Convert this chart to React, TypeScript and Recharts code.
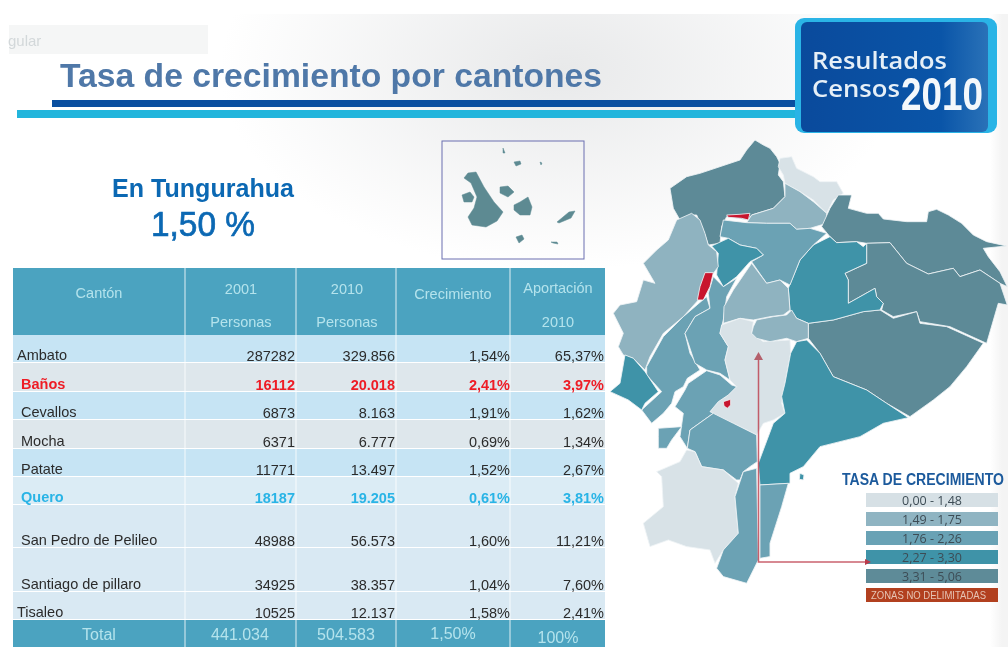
import React from 'react'
import {
  ComposedChart,
  BarChart,
  Bar,
  Cell,
  LabelList,
  Scatter,
  XAxis,
  YAxis,
  ReferenceArea,
  ReferenceLine,
  Surface,
  Polygon
} from 'recharts'

// table values
const cantones = ['Ambato', 'Baños', 'Cevallos', 'Mocha', 'Patate', 'Quero', 'San Pedro de Pelileo', 'Santiago de pillaro', 'Tisaleo']
const personas2001 = [287282, 16112, 6873, 6371, 11771, 18187, 48988, 34925, 10525]
const personas2010 = [329856, 20018, 8163, 6777, 13497, 19205, 56573, 38357, 12137]
const crecimiento = [1.54, 2.41, 1.91, 0.69, 1.52, 0.61, 1.6, 1.04, 1.58]
const aportacion = [65.37, 3.97, 1.62, 1.34, 2.67, 3.81, 11.21, 7.6, 2.41]
const totales = ['441.034', '504.583', '1,50%', '100%']

const legendTramos = ['0,00 - 1,48', '1,49 - 1,75', '1,76 - 2,26', '2,27 - 3,30', '3,31 - 5,06', 'ZONAS NO DELIMITADAS']
const legendColors = ['#d6e0e5', '#8fb4c2', '#69a2b5', '#3f93a8', '#5e8b98', '#b2401f']

// layout of the table, in page pixels
const ROW_EDGES = [335, 363, 392, 420, 449, 477, 505, 548, 592, 620]
const ROW_FILLS = ['#c6e4f4', '#dee7ec', '#c6e4f4', '#dee7ec', '#c6e4f4', '#dbecf5', '#d9e9f3', '#d9e9f3', '#d9e9f3']
const COL_EDGES = [13, 185, 296, 396, 510, 605]
const NUM_RIGHT = [295, 395, 510, 604]
const NAME_X = [17, 21, 21, 21, 21, 21, 21, 21, 17]
const TOTAL_X = [240, 346, 453, 558]
const TOTAL_Y = [640, 640, 639, 643]
const HEADER_CELLS = [
  { x: 99, y: 298, label: 'Cantón' },
  { x: 241, y: 294, label: '2001' },
  { x: 241, y: 327, label: 'Personas' },
  { x: 347, y: 294, label: '2010' },
  { x: 347, y: 327, label: 'Personas' },
  { x: 453, y: 299, label: 'Crecimiento' },
  { x: 558, y: 293, label: 'Aportación' },
  { x: 558, y: 327, label: '2010' }
]

// map traced in crop units (3 units = 1px, origin at page 600,120)
const MAP_LIGHT = '#d8e2e7'
const MAP_A = '#8fb3c0'
const MAP_B = '#6ba2b4'
const MAP_C = '#3f93a8'
const MAP_D = '#5d8a97'
const MAP_RED = '#c8152e'
const provincias: Array<[string, number[]]> = [
  [MAP_D, [465,60,490,75,510,85,530,110,540,130,535,165,550,185,555,230,520,265,455,285,445,300,380,290,365,320,360,370,325,375,315,345,310,330,290,285,270,285,240,300,220,265,210,205,260,170,300,160,330,150,375,135,420,120,440,90]],
  [MAP_LIGHT, [540,115,575,110,590,145,640,170,660,185,710,185,730,220,700,240,680,280,640,240,600,215,555,190,550,165,535,140]],
  [MAP_A, [555,190,600,215,640,245,680,280,680,310,630,325,590,328,570,310,500,310,440,308,455,285,520,265,555,230]],
  [MAP_D, [665,320,690,265,715,225,755,225,745,265,800,280,835,280,850,297,920,305,980,305,985,275,1010,268,1045,285,1085,310,1120,345,1160,365,1220,378,1150,385,1165,410,1200,455,1222,500,1200,490,1140,450,1080,470,1060,445,985,462,920,430,870,368,800,370,770,365,710,368,690,350]],
  [MAP_D, [800,370,870,368,920,430,985,462,1060,445,1080,470,1140,450,1200,490,1222,555,1195,550,1160,670,1050,620,960,605,950,575,880,590,845,570,850,550,830,530,825,505,745,550,745,480,735,460,800,430]],
  [MAP_D, [625,610,700,600,790,575,840,570,880,595,950,575,960,610,1040,620,1150,670,1100,740,1050,800,1000,840,930,890,860,850,800,810,700,770,660,700,625,655]],
  [MAP_C, [690,350,710,368,770,365,790,380,800,370,800,430,735,460,745,480,745,550,825,505,830,530,850,550,840,570,790,575,700,600,625,610,590,595,570,570,565,505,600,420,640,375]],
  [MAP_B, [370,300,440,308,500,310,570,310,590,328,630,325,680,340,640,375,600,420,570,495,540,480,500,490,455,425,490,405,470,385,420,375,385,355,360,350]],
  [MAP_C, [385,355,420,375,470,385,490,405,450,425,410,470,370,500,350,465,355,400,335,378]],
  [MAP_A, [275,280,300,300,315,340,325,375,350,395,355,440,340,460,320,460,295,540,250,590,190,640,150,710,135,750,100,715,70,705,55,680,70,640,40,580,60,555,110,545,130,480,165,490,130,430,170,390,205,360,230,300]],
  [MAP_B, [140,740,190,650,250,590,320,530,330,565,285,590,255,640,270,700,300,750,262,775,250,800,225,815,215,850,190,880,155,910,125,870,185,815,140,765]],
  [MAP_B, [340,470,370,500,410,475,380,530,370,600,360,640,385,680,375,720,390,780,360,760,320,750,285,730,255,640,285,590,330,565,325,520]],
  [MAP_A, [455,430,500,490,540,480,565,505,570,570,550,585,510,590,460,600,420,595,370,610,372,560,400,510]],
  [MAP_LIGHT, [365,615,420,595,460,605,455,640,490,665,570,660,572,700,555,790,545,850,555,880,520,900,490,910,470,945,430,925,400,910,350,890,330,875,355,845,385,825,410,800,390,780,375,720,385,680,360,640]],
  [MAP_A, [460,620,470,600,520,590,560,585,575,570,590,595,625,610,625,655,590,665,560,655,510,665,470,655,455,640]],
  [MAP_C, [620,660,660,700,700,770,800,810,860,850,925,893,850,910,780,950,660,980,610,1040,570,1060,570,1090,480,1095,475,1030,520,910,555,880,545,830,555,790,572,700,590,665]],
  [MAP_C, [600,1060,612,1065,610,1080,598,1078]],
  [MAP_C, [75,705,100,715,135,755,175,815,135,850,125,870,85,840,30,815,60,790]],
  [MAP_B, [265,790,320,752,360,765,395,795,410,800,385,825,355,845,330,875,340,880,270,930,262,985,240,950,250,880,225,860,255,810]],
  [MAP_B, [350,885,400,910,470,945,472,1025,450,1040,430,1055,420,1080,410,1080,370,1050,305,1040,285,995,262,985,270,930,340,880]],
  [MAP_B, [175,925,245,920,215,960,200,985,175,985,175,950]],
  [MAP_LIGHT, [260,990,285,995,305,1040,370,1050,415,1090,405,1130,415,1240,370,1290,345,1330,330,1290,260,1280,205,1260,150,1280,130,1210,190,1160,185,1070,170,1055,240,1025]],
  [MAP_B, [430,1055,470,1045,475,1320,440,1390,370,1370,350,1345,370,1290,415,1240,405,1130,425,1070]],
  [MAP_B, [480,1095,565,1090,545,1160,510,1270,510,1310,480,1315]],
  [MAP_RED, [380,285,420,283,450,280,445,300,425,295,385,292]],
  [MAP_RED, [315,458,340,458,330,500,310,540,292,540,300,500]],
  [MAP_RED, [370,845,392,838,392,855,382,865,372,858]]
]

// galapagos inset, page pixels
const islas: number[][] = [
  [468,173,476,172,484,187,494,202,503,212,497,221,486,227,472,225,468,217,474,208,477,197,471,183,464,178],
  [462,195,470,192,474,197,472,202,464,202],
  [500,187,508,186,514,192,508,197,500,193],
  [514,205,520,202,528,197,532,207,530,215,520,215,514,210],
  [557,222,569,212,575,211,571,218,559,223],
  [516,237,522,235,524,239,519,243],
  [551,242,557,242,558,244,553,243],
  [503,148,505,153,503,153],
  [514,162,520,161,521,164,516,166],
  [540,162,542,163,541,165]
]

const toPoints = (flat: number[]) => {
  const pts = []
  for (let i = 0; i < flat.length; i += 2) pts.push({ x: flat[i], y: flat[i + 1] })
  return pts
}

const miles = (n: number) => String(n).replace(/\B(?=(\d{3})+$)/g, '.')
const pct = (n: number) => n.toFixed(2).replace('.', ',') + '%'

const rowColor = (i: number) => (i === 1 ? '#ee1c25' : i === 5 ? '#29b4e6' : '#2b2b2b')
const rowWeight = (i: number) => (i === 1 || i === 5 ? 'bold' : 'normal')
const SANS = "'Liberation Sans', Arial, sans-serif"
const NARROW = "'Liberation Sans Narrow', 'Liberation Sans', sans-serif"
const OPEN = "'Open Sans', sans-serif"
const HEAD_TEXT = '#b4e3ec'

const nameRows = cantones.map((label, i) => ({
  x: NAME_X[i], y: ROW_EDGES[i + 1] - 3, label, fill: rowColor(i), weight: rowWeight(i), anchor: 'start', size: 14.5
}))
const numColumn = (labels: string[], col: number) =>
  labels.map((label, i) => ({
    x: NUM_RIGHT[col], y: ROW_EDGES[i + 1] - 2, label, fill: rowColor(i), weight: rowWeight(i), anchor: 'end', size: 14.5
  }))
const allCells = [
  ...nameRows,
  ...numColumn(personas2001.map(String), 0),
  ...numColumn(personas2010.map(miles), 1),
  ...numColumn(crecimiento.map(pct), 2),
  ...numColumn(aportacion.map(pct), 3)
]
const headCells = HEADER_CELLS.map((c) => ({ ...c, fill: HEAD_TEXT, weight: 'normal', anchor: 'middle', size: 14.5 }))
const totalCells = [
  { x: 99, y: 640, label: 'Total', fill: HEAD_TEXT, weight: 'normal', anchor: 'middle', size: 16 },
  ...totales.map((label, i) => ({
    x: TOTAL_X[i], y: TOTAL_Y[i], label, fill: HEAD_TEXT, weight: 'normal', anchor: 'middle', size: 16
  }))
]

const CellText = (props: any) => {
  const { cx, cy, payload } = props
  return (
    <text x={cx} y={cy} textAnchor={payload.anchor} fill={payload.fill} fontWeight={payload.weight} fontSize={payload.size} fontFamily={SANS}>
      {payload.label}
    </text>
  )
}

const Table = () => (
  <ComposedChart width={1008} height={647} margin={{ top: 0, right: 0, bottom: 0, left: 0 }} style={{ position: 'absolute', left: 0, top: 0 }}>
    <XAxis type="number" dataKey="x" domain={[0, 1008]} hide />
    <YAxis type="number" dataKey="y" domain={[0, 647]} reversed hide />
    <ReferenceArea x1={13} x2={605} y1={268} y2={335} fill="#4ba3c0" fillOpacity={1} stroke="none" />
    {cantones.map((c, i) => (
      <ReferenceArea key={c} x1={13} x2={605} y1={ROW_EDGES[i]} y2={ROW_EDGES[i + 1] - 1} fill={ROW_FILLS[i]} fillOpacity={1} stroke="none" />
    ))}
    <ReferenceArea x1={13} x2={605} y1={620} y2={647} fill="#4ba3c0" fillOpacity={1} stroke="none" />
    {COL_EDGES.slice(1, 5).map((x) => (
      <ReferenceLine key={x} segment={[{ x, y: 268 }, { x, y: 647 }]} stroke="#ffffff" strokeOpacity={0.55} strokeWidth={1.5} />
    ))}
    <Scatter data={headCells} shape={CellText} isAnimationActive={false} />
    <Scatter data={allCells} shape={CellText} isAnimationActive={false} />
    <Scatter data={totalCells} shape={CellText} isAnimationActive={false} />
  </ComposedChart>
)

const legendRows = legendTramos.map((tramo, i) => ({ tramo, valor: 1, i }))

const LegendLabel = (props: any) => {
  const { x, y, width, height, value, index } = props
  const last = index === legendTramos.length - 1
  if (last) {
    return (
      <text x={x + 5} y={y + height / 2 + 4} fill="#e6c4b4" fontSize={10} fontFamily={SANS} textLength={115} lengthAdjust="spacingAndGlyphs">
        {value}
      </text>
    )
  }
  return (
    <text x={x + width / 2} y={y + height / 2 + 5} textAnchor="middle" fill="#3d4c55" fontSize={12.5} fontFamily={OPEN}>
      {value}
    </text>
  )
}

const TasaLegend = () => (
  <BarChart
    width={132}
    height={114}
    layout="vertical"
    data={legendRows}
    margin={{ top: 0, right: 0, bottom: 0, left: 0 }}
    style={{ position: 'absolute', left: 866, top: 490 }}
  >
    <XAxis type="number" domain={[0, 1]} hide />
    <YAxis type="category" dataKey="tramo" hide />
    <Bar dataKey="valor" barSize={14} isAnimationActive={false}>
      {legendRows.map((r) => (
        <Cell key={r.tramo} fill={legendColors[r.i]} />
      ))}
      <LabelList dataKey="tramo" content={LegendLabel} />
    </Bar>
  </BarChart>
)

const Slide = () => (
  <Surface width={1008} height={647} style={{ position: 'absolute', left: 0, top: 0 }}>
    <defs>
      <linearGradient id="azul" x1="0" x2="1" y1="0" y2="0">
        <stop offset="0" stopColor="#0a4a9c" />
        <stop offset="0.75" stopColor="#0a55a8" />
        <stop offset="1" stopColor="#2a72b8" />
      </linearGradient>
    </defs>
    <rect x={9} y={25} width={199} height={29} fill="#f5f6f6" />
    <text x={8} y={46} fontSize={15} fill="#d3d8da" fontFamily={SANS}>gular</text>
    <text x={60} y={87} fontSize={34} fontWeight="bold" fill="#4f78a8" fontFamily={SANS} textLength={542} lengthAdjust="spacingAndGlyphs">
      Tasa de crecimiento por cantones
    </text>
    <rect x={52} y={100} width={745} height={7} fill="#0a4fa0" />
    <rect x={17} y={110} width={780} height={8} fill="#22b5dc" />
    <rect x={795} y={18} width={202} height={115} rx={9} fill="#2ab4e6" />
    <rect x={801} y={22} width={187} height={110} rx={6} fill="url(#azul)" />
    <text x={812} y={69} fontSize={24} fontWeight={600} fill="#e6eff7" fontFamily={OPEN} textLength={135} lengthAdjust="spacingAndGlyphs">Resultados</text>
    <text x={812} y={97} fontSize={24} fontWeight={600} fill="#e6eff7" fontFamily={OPEN} textLength={88} lengthAdjust="spacingAndGlyphs">Censos</text>
    <text x={901} y={110} fontSize={47} fontWeight="bold" fill="#f4f8fb" fontFamily={NARROW} textLength={82} lengthAdjust="spacingAndGlyphs">2010</text>

    <text x={112} y={197} fontSize={26} fontWeight="bold" fill="#0b68b3" fontFamily={SANS} textLength={182} lengthAdjust="spacingAndGlyphs">En Tungurahua</text>
    <text x={151} y={236} fontSize={35} fill="#0b68b3" stroke="#0b68b3" strokeWidth={0.7} fontFamily={SANS} textLength={104} lengthAdjust="spacingAndGlyphs">1,50 %</text>

    <rect x={442} y={141} width={142} height={118} fill="none" stroke="#6a6fb0" strokeWidth={1} />
    {islas.map((isla, i) => (
      <Polygon key={i} points={toPoints(isla)} fill="#5d8a92" stroke="#5d8a92" strokeWidth={0.5} strokeLinejoin="round" />
    ))}

    <text x={842} y={485} fontSize={16} fontWeight="bold" fill="#1c5a9c" fontFamily={NARROW} textLength={162} lengthAdjust="spacingAndGlyphs">TASA DE CRECIMIENTO</text>

    <g transform="translate(600 120) scale(0.3333)">
      {provincias.map(([fill, flat], i) => (
        <Polygon key={i} points={toPoints(flat)} fill={fill} stroke="#eef3f5" strokeWidth={2.5} strokeLinejoin="round" />
      ))}
    </g>
  </Surface>
)

const Flecha = () => (
  <Surface width={1008} height={647} style={{ position: 'absolute', left: 0, top: 0, pointerEvents: 'none' }}>
    <polyline points="758.5,358 758.5,562 868,562" fill="none" stroke="#bb3b4a" strokeWidth={1.5} strokeOpacity={0.8} />
    <polygon points="758.5,352 754,360 763,360" fill="#b4606c" />
    <polygon points="871,562 865,559 865,565" fill="#bb3b4a" />
  </Surface>
)

export default function App() {
  return (
    <div
      style={{
        position: 'absolute',
        left: 0,
        top: 0,
        width: 1008,
        height: 647,
        overflow: 'hidden',
        filter: 'blur(0.4px)',
        background:
          'linear-gradient(#ffffff 14px, rgba(255,255,255,0) 14px), radial-gradient(ellipse 340px 200px at 560px 70px, #e8e9ea, rgba(255,255,255,0)), linear-gradient(90deg, #ffffff 990px, #f4f4f4 1002px)'
      }}
    >
      <Slide />
      <Table />
      <TasaLegend />
      <Flecha />
    </div>
  )
}
